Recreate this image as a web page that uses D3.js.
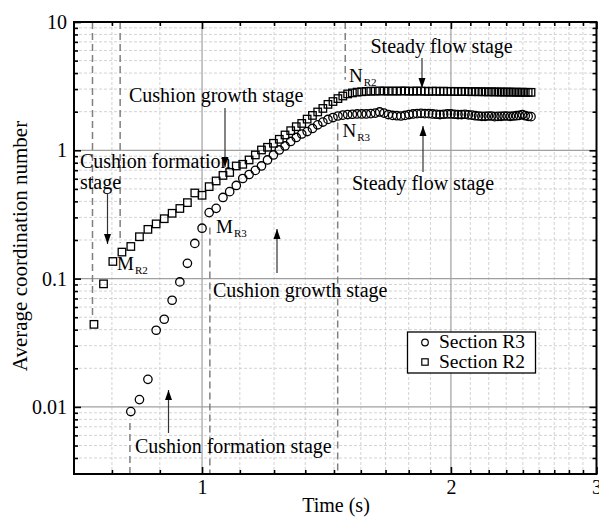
<!DOCTYPE html>
<html>
<head>
<meta charset="utf-8">
<script src="https://cdn.jsdelivr.net/npm/d3@7/dist/d3.min.js"></script>
<style>
  html, body { margin: 0; padding: 0; background: #fff; }
  svg { display: block; }
  svg text { font-family: "Liberation Serif", "DejaVu Serif", serif; }
</style>
</head>
<body>
<svg id="chart" width="599" height="517"></svg>
<script>
// Sampling times (s) and average coordination number for each section
const timeR2 = [0.74,0.76,0.78,0.80,0.82,0.84,0.86,0.88,0.90,0.92,0.94,0.96,0.98,1.00,1.02,1.04,1.06,1.08,1.10,1.12,
  1.14,1.16,1.18,1.20,1.22,1.24,1.26,1.28,1.30,1.32,1.34,1.36,1.38,1.40,1.42,1.44,1.46,1.48,1.50,1.52,
  1.54,1.56,1.58,1.60,1.62,1.64,1.66,1.68,1.70,1.72,1.74,1.76,1.78,1.80,1.82,1.84,1.86,1.88,1.90,1.92,
  1.94,1.96,1.98,2.00,2.02,2.04,2.06,2.08,2.10,2.12,2.14,2.16,2.18,2.20,2.22,2.24,2.26,2.28,2.30,2.32,
  2.34,2.36,2.38,2.40,2.42,2.44,2.46,2.48,2.50];
const coordR2 = [0.044,0.091,0.136,0.161,0.178,0.212,0.242,0.267,0.293,0.323,0.352,0.391,0.465,0.446,0.521,0.577,0.637,0.672,0.755,0.778,
  0.841,0.920,1.006,1.056,1.134,1.219,1.317,1.422,1.528,1.62,1.75,1.87,1.99,2.12,2.28,2.40,2.53,2.65,2.75,2.80,
  2.84,2.86,2.88,2.89,2.89,2.90,2.90,2.89,2.90,2.89,2.90,2.90,2.89,2.89,2.90,2.89,2.89,2.88,2.89,2.89,
  2.88,2.89,2.88,2.88,2.88,2.87,2.88,2.87,2.87,2.86,2.87,2.86,2.86,2.86,2.85,2.86,2.85,2.85,2.85,2.84,
  2.85,2.84,2.84,2.84,2.83,2.84,2.83,2.83,2.83];

const timeR3 = [0.82,0.84,0.86,0.88,0.90,0.92,0.94,0.96,0.98,1.00,1.02,1.04,1.06,1.08,1.10,1.12,1.14,1.16,1.18,1.20,
  1.22,1.24,1.26,1.28,1.30,1.32,1.34,1.36,1.38,1.40,1.42,1.44,1.46,1.48,1.50,1.52,1.54,1.56,1.58,1.60,
  1.62,1.64,1.66,1.68,1.70,1.72,1.74,1.76,1.78,1.80,1.82,1.84,1.86,1.88,1.90,1.92,1.94,1.96,1.98,2.00,
  2.02,2.04,2.06,2.08,2.10,2.12,2.14,2.16,2.18,2.20,2.22,2.24,2.26,2.28,2.30,2.32,2.34,2.36,2.38,2.40,
  2.42,2.44,2.46,2.48,2.50];
const coordR3 = [0.0092,0.0114,0.0164,0.0396,0.0482,0.0678,0.0942,0.1316,0.188,0.247,0.327,0.353,0.429,0.476,0.532,0.603,0.648,0.697,0.755,0.841,
  0.920,1.006,1.081,1.172,1.259,1.34,1.40,1.48,1.58,1.66,1.74,1.80,1.85,1.88,1.90,1.91,1.92,1.92,1.92,1.93,
  1.95,1.99,1.95,1.90,1.87,1.86,1.85,1.87,1.90,1.92,1.93,1.94,1.93,1.93,1.92,1.91,1.90,1.91,1.92,1.92,
  1.91,1.90,1.90,1.91,1.89,1.88,1.86,1.85,1.84,1.84,1.85,1.85,1.83,1.84,1.84,1.85,1.85,1.84,1.85,1.86,
  1.87,1.90,1.86,1.84,1.83];

// Axis ticks
const xMajorTicks = [1, 2, 3];
const xMinorTicks = [0.778, 0.889, 1.111, 1.222, 1.333, 1.444, 1.556, 1.667, 1.778, 1.889,
  2.111, 2.222, 2.333, 2.444, 2.556, 2.667, 2.778, 2.889];
const yMajorTicks = [0.01, 0.1, 1, 10];
const yTickLabels = ["0.01", "0.1", "1", "10"];
const yMinorTicks = [0.004,0.005,0.006,0.007,0.008,0.009,0.02,0.03,0.04,0.05,0.06,0.07,0.08,0.09,
  0.2,0.3,0.4,0.5,0.6,0.7,0.8,0.9,2,3,4,5,6,7,8,9];

// Stage boundaries (s): [time, y from, y to]
const stageLines = [
  [0.737, 10, 0.052],
  [0.796, 10, 0.19],
  [0.818, 0.0075, 0.003],
  [1.022, 0.25, 0.003],
  [1.49, 10, 3.55],
  [1.459, 1.65, 0.003]
];

const FONT = "Liberation Serif";
const svg = d3.select("#chart");
const L = 74, R = 596.5, T = 22, B = 474;
const x = d3.scaleLog().domain([0.7, 3]).range([L, R]);
const y = d3.scaleLog().domain([0.003, 10]).range([B, T]);

// Grid
const grid = svg.append("g");
grid.selectAll(".gxm").data(xMinorTicks).join("line")
  .attr("x1", d => x(d)).attr("x2", d => x(d)).attr("y1", T).attr("y2", B)
  .attr("stroke", "#c8c8c8").attr("stroke-width", 0.8).attr("stroke-dasharray", "3,2");
grid.selectAll(".gym").data(yMinorTicks).join("line")
  .attr("y1", d => y(d)).attr("y2", d => y(d)).attr("x1", L).attr("x2", R)
  .attr("stroke", "#c8c8c8").attr("stroke-width", 0.8).attr("stroke-dasharray", "3,2");
grid.selectAll(".gxM").data([1, 2]).join("line")
  .attr("x1", d => x(d)).attr("x2", d => x(d)).attr("y1", T).attr("y2", B)
  .attr("stroke", "#a0a0a0").attr("stroke-width", 1.2);
grid.selectAll(".gyM").data([0.01, 0.1, 1]).join("line")
  .attr("y1", d => y(d)).attr("y2", d => y(d)).attr("x1", L).attr("x2", R)
  .attr("stroke", "#a0a0a0").attr("stroke-width", 1.2);

// Stage boundary lines
svg.append("g").selectAll("line").data(stageLines).join("line")
  .attr("x1", d => x(d[0])).attr("x2", d => x(d[0]))
  .attr("y1", d => y(d[1])).attr("y2", d => y(d[2]))
  .attr("stroke", "#808080").attr("stroke-width", 1.5).attr("stroke-dasharray", "7,4");

// Axes with inward ticks
function styleAxis(g) {
  g.attr("font-family", FONT);
  g.select(".domain").remove();
  g.selectAll(".tick line").attr("stroke", "#000").attr("stroke-width", 1.6);
  g.selectAll("text").attr("font-size", 20).attr("fill", "#000").attr("font-family", FONT);
}
svg.append("g").attr("transform", `translate(0,${B})`)
  .call(d3.axisBottom(x).tickValues(xMajorTicks).tickSize(-7).tickPadding(6).tickFormat(d3.format("d")))
  .call(styleAxis);
svg.append("g").attr("transform", `translate(0,${B})`)
  .call(d3.axisBottom(x).tickValues(xMinorTicks).tickSize(-4).tickFormat(""))
  .call(styleAxis);
svg.append("g").attr("transform", `translate(0,${T})`)
  .call(d3.axisTop(x).tickValues(xMajorTicks).tickSize(-7).tickFormat(""))
  .call(styleAxis);
svg.append("g").attr("transform", `translate(0,${T})`)
  .call(d3.axisTop(x).tickValues(xMinorTicks).tickSize(-4).tickFormat(""))
  .call(styleAxis);
svg.append("g").attr("transform", `translate(${L},0)`)
  .call(d3.axisLeft(y).tickValues(yMajorTicks).tickSize(-7).tickPadding(7)
    .tickFormat((d, i) => yTickLabels[i]))
  .call(styleAxis);
svg.append("g").attr("transform", `translate(${L},0)`)
  .call(d3.axisLeft(y).tickValues(yMinorTicks).tickSize(-4).tickFormat(""))
  .call(styleAxis);
svg.append("g").attr("transform", `translate(${R},0)`)
  .call(d3.axisRight(y).tickValues(yMajorTicks).tickSize(-7).tickFormat(""))
  .call(styleAxis);
svg.append("g").attr("transform", `translate(${R},0)`)
  .call(d3.axisRight(y).tickValues(yMinorTicks).tickSize(-4).tickFormat(""))
  .call(styleAxis);

svg.append("rect").attr("x", L).attr("y", T).attr("width", R - L).attr("height", B - T)
  .attr("fill", "none").attr("stroke", "#000").attr("stroke-width", 2);

// Axis titles
svg.append("text").attr("x", 336).attr("y", 512).attr("text-anchor", "middle")
  .attr("font-family", FONT).attr("font-size", 20).text("Time (s)");
svg.append("text").attr("transform", "translate(27,246) rotate(-90)").attr("text-anchor", "middle")
  .attr("font-family", FONT).attr("font-size", 21).text("Average coordination number");

// Markers
const r2 = timeR2.map((t, i) => [t, coordR2[i]]);
const r3 = timeR3.map((t, i) => [t, coordR3[i]]);
const sq = 7.5;
svg.append("g").selectAll("rect").data(r2).join("rect")
  .attr("x", d => x(d[0]) - sq / 2).attr("y", d => y(d[1]) - sq / 2)
  .attr("width", sq).attr("height", sq)
  .attr("fill", "none").attr("stroke", "#000").attr("stroke-width", 1.3);
svg.append("g").selectAll("circle").data(r3).join("circle")
  .attr("cx", d => x(d[0])).attr("cy", d => y(d[1])).attr("r", 4.2)
  .attr("fill", "none").attr("stroke", "#000").attr("stroke-width", 1.3);

// Annotations
svg.append("defs").append("marker").attr("id", "ah").attr("viewBox", "0 0 10 10")
  .attr("refX", 10).attr("refY", 5).attr("markerWidth", 10).attr("markerHeight", 10)
  .attr("markerUnits", "userSpaceOnUse").attr("orient", "auto")
  .append("path").attr("d", "M0,1.5 L10,5 L0,8.5 Z").attr("fill", "#000");

const arrows = [
  [422, 58, 422, 88],
  [423, 172, 423, 126],
  [225, 108, 225, 167],
  [107.5, 194, 107.5, 244],
  [277, 273, 277, 229],
  [168.5, 433, 168.5, 390]
];
svg.append("g").selectAll("line").data(arrows).join("line")
  .attr("x1", d => d[0]).attr("y1", d => d[1]).attr("x2", d => d[2]).attr("y2", d => d[3])
  .attr("stroke", "#333").attr("stroke-width", 1.2).attr("marker-end", "url(#ah)");

const labels = [
  ["Steady flow stage", 370.5, 52.5],
  ["Steady flow stage", 352, 190],
  ["Cushion growth stage", 129, 101.5],
  ["Cushion formation", 80, 168],
  ["stage", 80, 188.5],
  ["Cushion growth stage", 213, 296.5],
  ["Cushion formation stage", 135, 453]
];
svg.append("g").selectAll("text").data(labels).join("text")
  .attr("x", d => d[1]).attr("y", d => d[2]).attr("font-family", FONT).attr("font-size", 20).text(d => d[0]);

const points = [
  ["N", "R2", 349, 81.5],
  ["N", "R3", 342.5, 136.5],
  ["M", "R2", 117, 270],
  ["M", "R3", 216, 233]
];
const pt = svg.append("g").selectAll("text").data(points).join("text")
  .attr("x", d => d[2]).attr("y", d => d[3]).attr("font-family", FONT).attr("font-size", 19);
pt.append("tspan").text(d => d[0]);
pt.append("tspan").attr("font-size", 11).attr("dy", 4).attr("dx", 1).text(d => d[1]);

// Legend
const lg = svg.append("g");
lg.append("rect").attr("x", 407.5).attr("y", 332).attr("width", 128).attr("height", 41)
  .attr("fill", "#fff").attr("stroke", "#000").attr("stroke-width", 1.3);
lg.append("circle").attr("cx", 425).attr("cy", 342.5).attr("r", 3.3)
  .attr("fill", "none").attr("stroke", "#000").attr("stroke-width", 1.2);
lg.append("rect").attr("x", 425 - 3.2).attr("y", 362 - 3.2).attr("width", 6.4).attr("height", 6.4)
  .attr("fill", "none").attr("stroke", "#000").attr("stroke-width", 1.2);
lg.append("text").attr("x", 439).attr("y", 347.5).attr("font-family", FONT).attr("font-size", 19.5).text("Section R3");
lg.append("text").attr("x", 439).attr("y", 368).attr("font-family", FONT).attr("font-size", 19.5).text("Section R2");
</script>
</body>
</html>
